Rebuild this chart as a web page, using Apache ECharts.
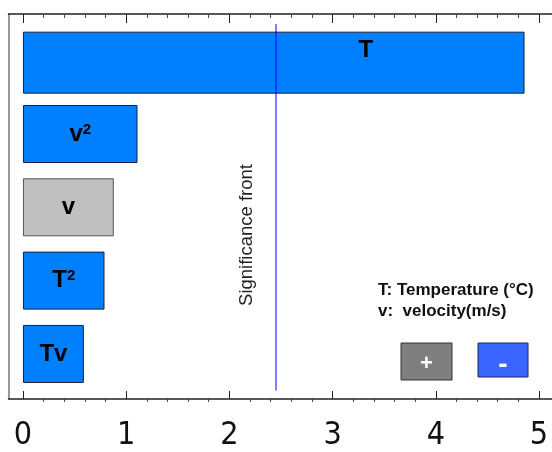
<!DOCTYPE html>
<html><head><meta charset="utf-8">
<script src="https://cdn.jsdelivr.net/npm/echarts@6/dist/echarts.min.js"></script>
<style>html,body{margin:0;padding:0;background:#fff}#c{width:552px;height:452px}</style>
</head><body><div id="c"></div>
<script>
// ---- data ----
const categories = ['T', 'v²', 'v', 'T²', 'Tv'];
const effects = [4.86, 1.11, 0.88, 0.79, 0.59];
const signs = ['-', '-', '+', '-', '-'];          // '+' gray, '-' blue
const significance = 2.45;
const xTicks = [0, 1, 2, 3, 4, 5];
const xMinorTicks = [0.2, 0.4, 0.6, 0.8, 1.2, 1.4, 1.6, 1.8, 2.2, 2.4, 2.6, 2.8,
                     3.2, 3.4, 3.6, 3.8, 4.2, 4.4, 4.6, 4.8];
const xMin = -0.14, xMax = 5.126;
const legendLines = ['T: Temperature (°C)', 'v:  velocity(m/s)'];
const signLabels = ['+', '-'];

// ---- styles ----
const BLUE = '#0080ff', GRAY = '#c0c0c0';
const narrow = "'DejaVu Sans Condensed','Liberation Sans Narrow','Arial Narrow','Liberation Sans',sans-serif";
const sans = "'Liberation Sans',Arial,sans-serif";

function itemFor(i) {
  const pos = signs[i] === '+';
  const label = {};
  if (i === 0) label.offset = [92, -12];
  return {
    value: effects[i],
    itemStyle: { color: pos ? GRAY : BLUE, borderColor: pos ? '#555' : '#13213d', borderWidth: 1 },
    label: label
  };
}

const bigData = categories.map((c, i) => i === 0 ? itemFor(i) : '-');
const mainData = categories.map((c, i) => i === 0 ? '-' : itemFor(i));

const barLabel = {
  show: true, position: 'inside', color: '#000',
  formatter: p => p.name.endsWith('²')
    ? '{m|' + p.name.slice(0, -1) + '}{s|2}'
    : '{m|' + p.name + '}',
  rich: {
    m: { fontWeight: 'bold', fontSize: 24, fontFamily: sans, color: '#000' },
    s: { fontWeight: 'bold', fontSize: 15, fontFamily: sans, color: '#000', verticalAlign: 'top' }
  }
};

const chart = echarts.init(document.getElementById('c'), null, { renderer: 'canvas' });
const option = {
  animation: false,
  backgroundColor: '#fff',
  grid: [
    { left: 8.5, right: 0, top: 14, bottom: 50 },
    { left: 8.5, right: 0, top: 14, bottom: 50 },
    { left: 8.5, right: 0, top: 24, bottom: 61.4 }
  ],
  xAxis: [
    { gridIndex: 0, type: 'value', position: 'bottom', min: xMin, max: xMax,
      axisLine: { show: true, onZero: false, lineStyle: { color: '#222', width: 1.5 } },
      axisTick: { show: true, inside: true, length: 8, customValues: xTicks, lineStyle: { color: '#222', width: 1 } },
      axisLabel: { show: true, customValues: xTicks, fontSize: 32, fontFamily: narrow, color: '#111', margin: 21 },
      splitLine: { show: false } },
    { gridIndex: 0, type: 'value', position: 'top', min: xMin, max: xMax,
      axisLine: { show: true, onZero: false, lineStyle: { color: '#222', width: 1.5 } },
      axisTick: { show: true, inside: true, length: 9, customValues: xTicks, lineStyle: { color: '#222', width: 1 } },
      axisLabel: { show: false }, splitLine: { show: false } },
    { gridIndex: 1, type: 'value', position: 'bottom', min: xMin, max: xMax,
      axisLine: { show: false, onZero: false },
      axisTick: { show: true, inside: true, length: 4, customValues: xMinorTicks, lineStyle: { color: '#444', width: 1 } },
      axisLabel: { show: false }, splitLine: { show: false } },
    { gridIndex: 1, type: 'value', position: 'top', min: xMin, max: xMax,
      axisLine: { show: false, onZero: false },
      axisTick: { show: true, inside: true, length: 4, customValues: xMinorTicks, lineStyle: { color: '#444', width: 1 } },
      axisLabel: { show: false }, splitLine: { show: false } },
    { gridIndex: 2, type: 'value', min: xMin, max: xMax, show: false }
  ],
  yAxis: [
    { gridIndex: 0, type: 'value', min: 0, max: 1, position: 'left',
      axisLine: { show: true, onZero: false, lineStyle: { color: '#777', width: 1.5 } },
      axisTick: { show: false }, axisLabel: { show: false }, splitLine: { show: false } },
    { gridIndex: 1, type: 'value', show: false },
    { gridIndex: 2, type: 'category', data: categories, inverse: true, show: false }
  ],
  series: [
    { type: 'bar', xAxisIndex: 4, yAxisIndex: 2, barWidth: 62, barGap: '-100%',
      data: bigData, label: barLabel, silent: true },
    { type: 'bar', xAxisIndex: 4, yAxisIndex: 2, barWidth: 58, barGap: '-100%',
      data: mainData, label: barLabel, silent: true,
      markLine: {
        silent: true, symbol: ['none', 'none'], animation: false,
        label: { show: false },
        lineStyle: { color: 'rgba(0,0,255,0.5)', width: 2, type: 'solid' },
        data: [{ xAxis: significance }]
      } }
  ]
};
chart.setOption(option);

const lineX = chart.convertToPixel({ xAxisIndex: 4 }, significance);
chart.setOption({
  graphic: [
    { type: 'text', x: lineX - 29, y: 235, rotation: Math.PI / 2,
      style: { text: 'Significance front', font: "18.5px " + sans, fill: '#222',
               align: 'center', verticalAlign: 'middle' } },
    { type: 'text', x: 378, y: 290,
      style: { text: legendLines[0], font: "bold 17px " + sans, fill: '#111', verticalAlign: 'middle' } },
    { type: 'text', x: 378, y: 311,
      style: { text: legendLines[1], font: "bold 17px " + sans, fill: '#111', verticalAlign: 'middle' } },
    { type: 'rect', shape: { x: 401, y: 343, width: 51, height: 37 },
      style: { fill: '#7f7f7f', stroke: '#333', lineWidth: 1 } },
    { type: 'text', x: 426.5, y: 364,
      style: { text: signLabels[0], font: "bold 22px " + sans, fill: '#fff', align: 'center', verticalAlign: 'middle' } },
    { type: 'rect', shape: { x: 478, y: 343, width: 50, height: 34 },
      style: { fill: '#3a66ff', stroke: '#1a2a5a', lineWidth: 1 } },
    { type: 'text', x: 503, y: 365,
      style: { text: signLabels[1], font: "bold 28px " + sans, fill: '#fff', align: 'center', verticalAlign: 'middle' } }
  ]
});
</script></body></html>
